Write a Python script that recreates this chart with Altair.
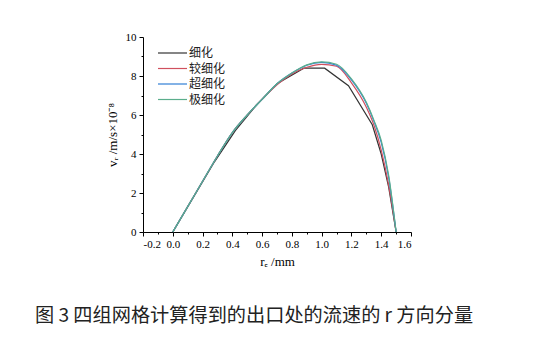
import altair as alt
import pandas as pd

# ---- data ----
series_names = ["细化", "较细化", "超细化", "极细化"]

x_coarse = [0, 0.14, 0.28, 0.42, 0.56, 0.70, 0.88, 1.02, 1.18, 1.34, 1.40, 1.45, 1.50]
y_coarse = [0, 1.8, 3.6, 5.2, 6.5, 7.6, 8.4, 8.4, 7.5, 5.5, 4.0, 2.3, 0]

x_fine = [0, 0.1, 0.2, 0.3, 0.4, 0.5, 0.6, 0.7, 0.8, 0.9, 1.0, 1.1, 1.2, 1.3, 1.35, 1.4, 1.45, 1.5]
y_medium = [0, 1.3, 2.6, 3.9, 5.1, 6.0, 6.8, 7.55, 8.1, 8.45, 8.6, 8.5, 7.65, 6.4, 5.5, 4.2, 2.4, 0]
y_super = [0, 1.3, 2.6, 3.9, 5.1, 6.0, 6.8, 7.6, 8.15, 8.55, 8.7, 8.55, 7.8, 6.6, 5.7, 4.6, 2.8, 0]
y_extreme = [0, 1.3, 2.6, 3.9, 5.1, 6.0, 6.8, 7.6, 8.15, 8.57, 8.72, 8.6, 7.85, 6.65, 5.75, 4.7, 2.9, 0]

x_major = [-0.2, 0.0, 0.2, 0.4, 0.6, 0.8, 1.0, 1.2, 1.4, 1.6]
x_minor = [-0.1, 0.1, 0.3, 0.5, 0.7, 0.9, 1.1, 1.3, 1.5]
y_major = [0, 2, 4, 6, 8, 10]
y_minor = [1, 3, 5, 7, 9]

colors = ["#333333", "#d0505e", "#2f7fd6", "#5bae8c"]
caption = "图 3 四组网格计算得到的出口处的流速的 r 方向分量"

rows = []
for xs, ys, name in [(x_coarse, y_coarse, series_names[0]),
                     (x_fine, y_medium, series_names[1]),
                     (x_fine, y_super, series_names[2]),
                     (x_fine, y_extreme, series_names[3])]:
    for i, (a, b) in enumerate(zip(xs, ys)):
        rows.append({"x": a, "y": b, "s": name, "i": i})
df = pd.DataFrame(rows)

W, H = 268, 195
serif = "Liberation Serif"

xscale = alt.Scale(domain=[-0.2, 1.6], nice=False, zero=False)
yscale = alt.Scale(domain=[0, 10], nice=False)
cscale = alt.Scale(domain=series_names, range=colors)

base = alt.Chart(df)

lines_coarse = base.transform_filter(alt.datum.s == series_names[0]).mark_line(
    strokeWidth=1.2).encode(
    x=alt.X("x:Q", scale=xscale,
            axis=alt.Axis(values=x_major,
                          labelExpr="replace(format(datum.value, '.1f'), '\u2212', '-')",
                          title="rₑ /mm", labelFont=serif, labelFontSize=11,
                          titleFont=serif, titleFontSize=13, titleFontWeight="normal",
                          titlePadding=6, tickSize=4, labelPadding=2)),
    y=alt.Y("y:Q", scale=yscale,
            axis=alt.Axis(values=y_major, format="d", title="vᵣ /m/s×10⁻⁸",
                          labelFont=serif, labelFontSize=11,
                          titleFont=serif, titleFontSize=13, titleFontWeight="normal",
                          titlePadding=6, tickSize=4, labelPadding=3)),
    color=alt.Color("s:N", sort=series_names, scale=cscale, legend=None),
    order="i:Q",
)

lines_fine = base.transform_filter(alt.datum.s != series_names[0]).mark_line(
    strokeWidth=1.2, interpolate="monotone").encode(
    x=alt.X("x:Q", scale=xscale, axis=None),
    y=alt.Y("y:Q", scale=yscale, axis=None),
    color=alt.Color("s:N", sort=series_names, scale=cscale, legend=None),
    order="i:Q",
)

minor = base.mark_point(opacity=0).encode(
    x=alt.X("x:Q", scale=xscale,
            axis=alt.Axis(values=x_minor, labels=False, domain=False, tickSize=2,
                          title=None, orient="bottom", grid=False)),
    y=alt.Y("y:Q", scale=yscale,
            axis=alt.Axis(values=y_minor, labels=False, domain=False, tickSize=2,
                          title=None, orient="left", grid=False)),
)

# manual legend (layout positions in pixels)
one = alt.Data(values=[{}])
legend_layers = []
for k, (name, col) in enumerate(zip(series_names, colors)):
    yy = 16 + 15.5 * k
    legend_layers.append(
        alt.Chart(one).mark_rule(strokeWidth=1.2, color=col).encode(
            x=alt.value(15), x2=alt.value(44), y=alt.value(yy)))
    legend_layers.append(
        alt.Chart(one).mark_text(font="Noto Sans CJK SC", fontSize=12, color="#222",
                                 align="left", baseline="middle").encode(
            x=alt.value(46), y=alt.value(yy), text=alt.value(name)))

cap = alt.Chart(one).mark_text(
    font="Noto Sans CJK SC", fontSize=19.2, color="#222", align="center", baseline="middle"
).encode(x=alt.value(111), y=alt.value(279), text=alt.value(caption))

chart = alt.layer(lines_coarse, lines_fine, minor, *legend_layers, cap).resolve_axis(
    x="independent", y="independent"
).properties(
    width=W, height=H,
    autosize=alt.AutoSizeParams(type="none"),
    padding={"left": 143, "top": 37, "right": 125, "bottom": 120},
    background="white",
).configure_view(stroke=None).configure_axis(
    grid=False, domainColor="#000", tickColor="#000", labelColor="#000", titleColor="#000",
    labelFont=serif, labelFontSize=11, domainWidth=1, tickWidth=1,
)

chart.save("out.html", embed_options={"renderer": "svg", "actions": False})
